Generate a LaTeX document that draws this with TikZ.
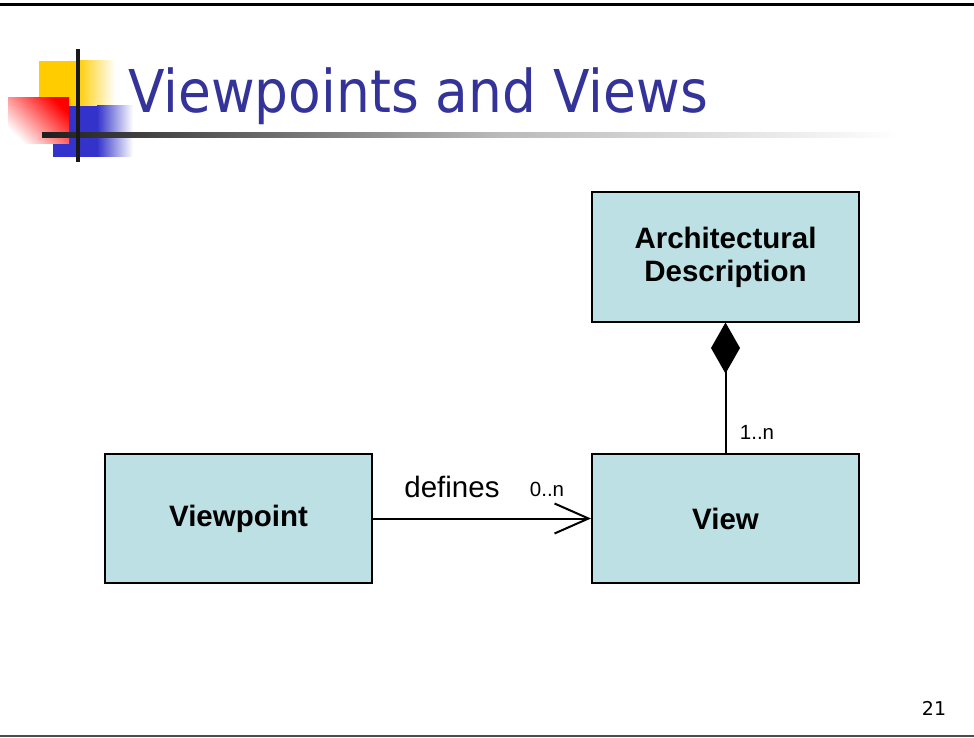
\documentclass[tikz,border=0pt]{standalone}
\usepackage{fontspec}
\setmainfont{Liberation Sans}
\newfontfamily\titlefont{DejaVu Sans}
\usetikzlibrary{positioning, arrows.meta}
\definecolor{titleblue}{RGB}{51,51,153}
\definecolor{boxcyan}{RGB}{188,224,227}
\definecolor{logoyellow}{RGB}{255,204,0}
\definecolor{logoblue}{RGB}{51,51,204}

\begin{document}
\begin{tikzpicture}[x=1pt,y=-1pt,
    classbox/.style={draw=black, line width=2pt, fill=boxcyan, minimum width=267pt, minimum height=129pt,
        align=center, font=\fontsize{29.5}{33}\selectfont\bfseries},
    assoc/.style={line width=2pt},
    mult/.style={font=\fontsize{20.5}{24}\selectfont}]
        \useasboundingbox (0,0) rectangle (974,738);
        \fill[white] (0,0) rectangle (974,738);
        \fill[black] (0,3) rectangle (974,6);
        \fill[black!70] (0,734.5) rectangle (974,736.5);

        \fill[logoyellow] (39,61) rectangle (77,106);
        \shade[left color=logoyellow, right color=white] (77,61) rectangle (115,106);
        \fill[logoblue] (53,106) rectangle (97,157);
        \shade[left color=logoblue, right color=white] (97,106) rectangle (133,157);
        \shade[top color=red, bottom color=white, shading angle=-45] (8,98) rectangle (69,144);
        \shade[left color=black!88, right color=black!27] (42,133) rectangle (500,138);
        \shade[left color=black!27, right color=white] (500,133) rectangle (900,138);
        \fill[black!90] (76,49) rectangle (80,162);

        \node[anchor=base west, inner sep=0pt, text=titleblue] (title) at (128,113)
            {\scalebox{0.905}[1]{\titlefont\fontsize{59}{66}\selectfont Viewpoints and Views}};

        \node[classbox] (ad) at (725.5,257) {Architectural\\Description};
        \node[classbox] (view) at (725.5,518.5) {View};
        \node[classbox] (viewpoint) at (238.5,518.5) {Viewpoint};

        \draw[assoc, -{Diamond[length=51pt,width=29pt]}] (view) -- (ad);
        \draw[assoc, -{Straight Barb[length=34pt,width=30pt]}] (viewpoint) -- (view);

        \node[font=\fontsize{29.5}{33}\selectfont] (defines) at (452,487) {defines};
        \node[mult] (mult0) at (547,489) {0..n};
        \node[mult] (mult1) at (757,432) {1..n};
        \node[font=\titlefont\fontsize{19}{22}\selectfont] (page) at (934,708) {21};
\end{tikzpicture}
\end{document}
